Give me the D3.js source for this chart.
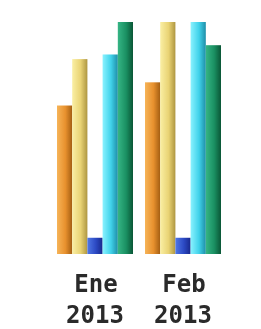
<!DOCTYPE html>
<html>
<head>
<meta charset="utf-8">
<script src="https://d3js.org/d3.v7.min.js"></script>
<style>
  html, body { margin: 0; padding: 0; background: #fff; }
  svg { display: block; filter: blur(0.5px); }
</style>
</head>
<body>
<svg width="261" height="329"></svg>
<script>
// data
const months = ["Ene", "Feb"];
const years = ["2013", "2013"];
const series = ["naranja", "amarillo", "azul", "cian", "verde"];
const valuesEne = [64, 84, 7, 86, 100];
const valuesFeb = [74, 100, 7, 100, 90];
const colors = [
    ["#f6b458", "#e8912e", "#a45e12"],
    ["#faefa4", "#e9d374", "#ae9641"],
    ["#5078e6", "#2c4ac4", "#18288c"],
    ["#8af2ff", "#40d2ea", "#1e8ea8"],
    ["#36b585", "#1a9062", "#0a5636"]
];

let svg = d3.select("svg"),
    baseY = 254,
    topY = 22;

let x0 = d3.scaleBand()
    .domain(months)
    .range([57, 221])
    .paddingInner(12 / 88)
    .paddingOuter(0);

let x1 = d3.scaleBand()
    .domain(series)
    .range([0, x0.bandwidth()]);

let y = d3.scaleLinear()
    .domain([0, 100])
    .range([baseY, topY]);

let defs = svg.append("defs");
colors.forEach(function(c, i) {
    let g = defs.append("linearGradient")
        .attr("id", "g" + i)
        .attr("x1", 0).attr("x2", 1).attr("y1", 0).attr("y2", 0);
    g.append("stop").attr("offset", "0%").attr("stop-color", c[0]);
    g.append("stop").attr("offset", "55%").attr("stop-color", c[1]);
    g.append("stop").attr("offset", "100%").attr("stop-color", c[2]);
});

let rows = [valuesEne, valuesFeb];

let groups = svg.selectAll("g.grupo")
    .data(months)
    .enter()
    .append("g")
    .attr("class", "grupo")
    .attr("transform", function(d) {
        return "translate(" + x0(d) + ",0)";
    });

groups.selectAll("rect")
    .data(function(d, i) {
        return rows[i].map(function(v, j) {
            return { key: series[j], value: v, idx: j };
        });
    })
    .enter()
    .append("rect")
    .attr("x", function(d) { return x1(d.key); })
    .attr("width", x1.bandwidth())
    .attr("y", function(d) { return y(d.value); })
    .attr("height", function(d) { return baseY - y(d.value); })
    .attr("fill", function(d) { return "url(#g" + d.idx + ")"; });

let labels = svg.selectAll("text.mes")
    .data(months)
    .enter()
    .append("text")
    .attr("class", "mes")
    .attr("text-anchor", "middle")
    .attr("font-family", "DejaVu Sans Mono")
    .attr("font-weight", "bold")
    .attr("font-size", 24)
    .attr("fill", "#2a2a2a");

labels.append("tspan")
    .attr("x", function(d) { return x0(d) + x0.bandwidth() / 2 + 1; })
    .attr("y", 292)
    .text(function(d) { return d; });

labels.append("tspan")
    .attr("x", function(d) { return x0(d) + x0.bandwidth() / 2; })
    .attr("y", 323)
    .text(function(d, i) { return years[i]; });
</script>
</body>
</html>
